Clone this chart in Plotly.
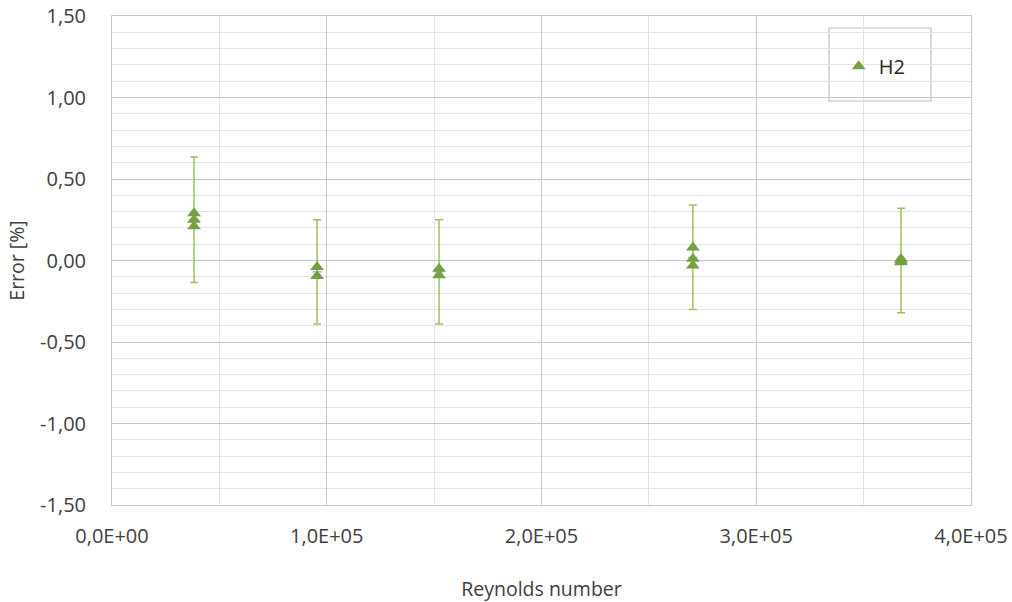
import plotly.graph_objects as go

# Measured points (Reynolds number, error in %) for H2
re_h2 = [38200, 38200, 38200, 95500, 95500, 152300, 152300,
         270500, 270500, 270500, 367400, 367400, 367400]
err_h2 = [0.29, 0.25, 0.21, -0.04, -0.095, -0.05, -0.09,
          0.08, 0.01, -0.03, 0.01, 0.0, -0.01]

# Mean error per Reynolds number with uncertainty band
re_mean = [38200, 95500, 152300, 270500, 367400]
err_mean = [0.25, -0.07, -0.07, 0.02, 0.0]
err_unc = [0.385, 0.32, 0.32, 0.32, 0.32]

x_tickvals = [0, 100000, 200000, 300000, 400000]
x_ticktext = ["0,0E+00", "1,0E+05", "2,0E+05", "3,0E+05", "4,0E+05"]
y_tickvals = [-1.5, -1.0, -0.5, 0.0, 0.5, 1.0, 1.5]
y_ticktext = ["-1,50", "-1,00", "-0,50", "0,00", "0,50", "1,00", "1,50"]

green = "#77a043"
font = "'Open Sans', sans-serif"

fig = go.Figure()

fig.add_trace(go.Scatter(
    x=re_mean, y=err_mean, mode="markers", showlegend=False,
    marker=dict(symbol="cross-thin", size=7, line=dict(color="#8fb4de", width=1.2)),
    error_y=dict(type="data", array=err_unc, visible=True,
                 color="#9cc35c", thickness=1.5, width=4),
))

fig.add_trace(go.Scatter(
    x=re_h2, y=err_h2, mode="markers", name="H2",
    marker=dict(symbol="triangle-up", size=12, color=green),
))

grid_major = "#c8c8c8"
grid_minor = "#e4e4e4"

fig.update_layout(
    width=1012, height=602,
    margin=dict(l=112, r=41, t=16, b=97),
    paper_bgcolor="white", plot_bgcolor="white",
    font=dict(family=font, size=19, color="#404040"),
    showlegend=True,
    legend=dict(x=0.846, y=0.897, xanchor="left", yanchor="middle",
                bgcolor="rgba(0,0,0,0)", borderwidth=0,
                font=dict(size=20, color="#262626")),
    shapes=[dict(type="rect", xref="paper", yref="paper",
                 x0=(829 - 112) / 859, x1=(931 - 112) / 859,
                 y0=(505 - 101) / 489, y1=(505 - 28) / 489,
                 line=dict(color="#bfbfbf", width=1.2), fillcolor="white",
                 layer="below")],
    xaxis=dict(
        range=[0, 400000], tickvals=x_tickvals, ticktext=x_ticktext,
        showgrid=True, gridcolor=grid_major, gridwidth=1,
        minor=dict(dtick=50000, showgrid=True, gridcolor=grid_minor, gridwidth=1),
        zeroline=False, showline=True, linecolor=grid_major, mirror=True,
        ticks="", ticklabelstandoff=13, automargin=False,
        title=dict(text="Reynolds number", standoff=34, font=dict(size=19.5)),
        tickfont=dict(size=20),
    ),
    yaxis=dict(
        range=[-1.5, 1.5], tickvals=y_tickvals, ticktext=y_ticktext,
        showgrid=True, gridcolor=grid_major, gridwidth=1,
        minor=dict(dtick=0.1, showgrid=True, gridcolor=grid_minor, gridwidth=1),
        zeroline=False, showline=True, linecolor=grid_major, mirror=True,
        ticks="", ticklabelstandoff=21, automargin=False,
        title=dict(text="Error [%]", standoff=10, font=dict(size=19.5)),
        tickfont=dict(size=20),
    ),
)

fig.write_html("out.html")
